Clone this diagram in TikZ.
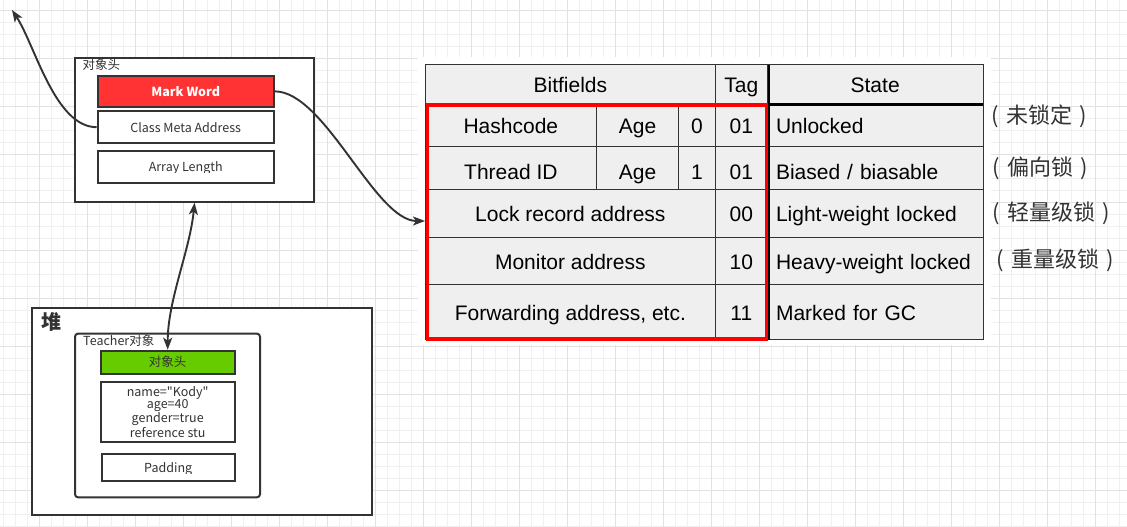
\documentclass[tikz,border=0pt]{standalone}
\usepackage{fontspec}
\setmainfont{Liberation Sans}
\newfontfamily\cjk{Noto Sans CJK SC}
\usetikzlibrary{arrows.meta}
\definecolor{gridminor}{HTML}{F0F0F0}
\definecolor{gridmajor}{HTML}{E2E2E2}
\definecolor{ink}{HTML}{333333}
\definecolor{markred}{HTML}{FF3333}
\definecolor{objgreen}{HTML}{66CC00}
\definecolor{cellgray}{HTML}{EFEFEF}
\newcommand{\lp}{\makebox[22pt][c]{(}}
\newcommand{\rp}{\makebox[22pt][c]{)}}
\begin{document}
\begin{tikzpicture}[x=1pt,y=-1pt,
  >={Stealth[length=12pt,width=9pt,inset=3pt]},
  box/.style={draw=ink, line width=2pt, inner sep=0pt, text=ink, font=\cjk\fontsize{12.5}{12.5}\selectfont},
  txt/.style={inner sep=0pt, text=ink, font=\cjk\fontsize{12.5}{12.5}\selectfont},
  cell/.style={draw=ink, fill=cellgray, line width=1pt, inner sep=0pt, text height=18pt, text depth=1.5pt, font=\fontsize{21}{24}\selectfont},
  statecell/.style={cell, text width=198.3pt, align=left, inner xsep=9pt, minimum width=216.3pt},
  zh/.style={inner sep=0pt, anchor=west, text=ink, font=\cjk\fontsize{22}{22}\selectfont},
  lnk/.style={draw=ink, line width=1.9pt}
]
\useasboundingbox (0,0) rectangle (1127,527);
\fill[white] (0,0) rectangle (1127,527);
% background grid
\foreach \x in {3.3,15.3,...,1127} \draw[gridminor, line width=1pt] (\x,0) -- (\x,527);
\foreach \y in {-1.7,10.3,...,527} \draw[gridminor, line width=1pt] (0,\y) -- (1127,\y);
\foreach \x in {39.3,87.3,...,1127} \draw[gridmajor, line width=1pt] (\x,0) -- (\x,527);
\foreach \y in {10.3,58.3,...,527} \draw[gridmajor, line width=1pt] (0,\y) -- (1127,\y);
% table backdrop
\fill[white] (418,57) rectangle (991,345);

% ---------- object header ----------
\node[box, fill=white, minimum width=239pt, minimum height=144pt] (hdr) at (194.5,129.7) {};
\node[txt, anchor=west] (hdrlbl) at (82.5,65) {对象头};
\node[box, fill=markred, text=white, font=\cjk\bfseries\fontsize{12.5}{12.5}\selectfont, minimum width=176pt, minimum height=30.7pt] (mw) at (185.7,91.35) {Mark Word};
\node[box, fill=white, minimum width=176pt, minimum height=32.3pt] (cma) at (185.7,127.2) {Class Meta Address};
\node[box, fill=white, minimum width=176pt, minimum height=32.3pt] (al) at (185.7,166.85) {};
\begin{scope}
\clip (97.7,150.7) rectangle (273.7,172.3);
\node[txt, anchor=base] (altxt) at (185.7,171.3) {Array Length};
\end{scope}

% ---------- heap ----------
\node[box, fill=white, minimum width=340pt, minimum height=207.3pt] (heap) at (201.7,411.35) {};
\node[inner sep=0pt, text=ink, font=\cjk\bfseries\fontsize{20}{20}\selectfont] (heaplbl) at (51.7,322.3) {堆};
\node[box, fill=white, rounded corners=3pt, minimum width=185pt, minimum height=163.6pt] (teacher) at (167.5,415.5) {};
\node[txt, anchor=west] (tlbl) at (83,341) {Teacher对象};
\node[box, fill=objgreen, minimum width=134pt, minimum height=23pt] (objh) at (167.7,362.2) {对象头};
\node[box, fill=white, align=center, font=\cjk\fontsize{12.5}{12}\selectfont, minimum width=134pt, minimum height=60.6pt] (fields) at (167.7,412) {name="Kody"\\age=40\\gender=true\\reference stu};
\node[box, fill=white, minimum width=133pt, minimum height=27pt] (pad) at (168.2,467.2) {};
\begin{scope}
\clip (101.7,453.7) rectangle (234.7,473.2);
\node[txt, anchor=base] (padtxt) at (168.2,472) {Padding};
\end{scope}

% ---------- table ----------
\node[cell, minimum width=290.7pt, minimum height=39.8pt] (hbit) at (570.35,84.6) {Bitfields};
\node[cell, minimum width=51.3pt, minimum height=39.8pt] (htag) at (741.35,84.6) {Tag};
\node[cell, minimum width=216.3pt, minimum height=39.8pt] (hstate) at (875.15,84.6) {State};

\node[cell, minimum width=171.7pt, minimum height=42.2pt] (r1a) at (510.85,125.6) {Hashcode};
\node[cell, minimum width=81.6pt, minimum height=42.2pt] (r1b) at (637.5,125.6) {Age};
\node[cell, minimum width=37.4pt, minimum height=42.2pt] (r1c) at (697,125.6) {0};
\node[cell, minimum width=51.3pt, minimum height=42.2pt] (r1d) at (741.35,125.6) {01};
\node[statecell, minimum height=42.2pt] (r1e) at (875.15,125.6) {Unlocked};

\node[cell, minimum width=171.7pt, minimum height=42.6pt] (r2a) at (510.85,168) {\raisebox{-3pt}{Thread ID}};
\node[cell, minimum width=81.6pt, minimum height=42.6pt] (r2b) at (637.5,168) {\raisebox{-3pt}{Age}};
\node[cell, minimum width=37.4pt, minimum height=42.6pt] (r2c) at (697,168) {\raisebox{-3pt}{1}};
\node[cell, minimum width=51.3pt, minimum height=42.6pt] (r2d) at (741.35,168) {\raisebox{-3pt}{01}};
\node[statecell, minimum height=42.6pt] (r2e) at (875.15,168) {\raisebox{-3pt}{Biased / biasable}};

\node[cell, minimum width=290.7pt, minimum height=48pt] (r3a) at (570.35,213.3) {Lock record address};
\node[cell, minimum width=51.3pt, minimum height=48pt] (r3d) at (741.35,213.3) {00};
\node[statecell, minimum height=48pt] (r3e) at (875.15,213.3) {Light-weight locked};

\node[cell, minimum width=290.7pt, minimum height=47pt] (r4a) at (570.35,260.8) {Monitor address};
\node[cell, minimum width=51.3pt, minimum height=47pt] (r4d) at (741.35,260.8) {10};
\node[statecell, minimum height=47pt] (r4e) at (875.15,260.8) {Heavy-weight locked};

\node[cell, minimum width=290.7pt, minimum height=55.2pt] (r5a) at (570.35,311.9) {Forwarding address, etc.};
\node[cell, minimum width=51.3pt, minimum height=55.2pt] (r5d) at (741.35,311.9) {11};
\node[statecell, minimum height=55.2pt] (r5e) at (875.15,311.9) {Marked for GC};

\draw[ink, line width=1.6pt] (983.3,64.7) -- (983.3,339.5) -- (425,339.5);
\draw[black, line width=2.6pt] (769,64.7) -- (769,339.5);
\draw[black, line width=2.6pt] (767,104.3) -- (983.3,104.3);
\draw[red, line width=3.5pt] (427.7,105) rectangle (766.5,339);

% ---------- Chinese state labels ----------
\node[zh] (zh1) at (984,116.7) {\lp 未锁定\rp};
\node[zh] (zh2) at (985,168.3) {\lp 偏向锁\rp};
\node[zh] (zh3) at (985,213.3) {\lp 轻量级锁\rp};
\node[zh] (zh4) at (989,260.7) {\lp 重量级锁\rp};

% ---------- connectors ----------
\coordinate (tl) at (12,10);
\coordinate (tin) at (425,221);
\draw[lnk, ->] (cma.west) .. controls (55,127.2) and (35,45) .. (tl);
\draw[lnk, ->] (mw.east) .. controls (325,91.35) and (375,221) .. (tin);
\draw[lnk, <->] (hdr.south) .. controls (190,250) and (167.7,300) .. (objh.north);
\end{tikzpicture}
\end{document}
